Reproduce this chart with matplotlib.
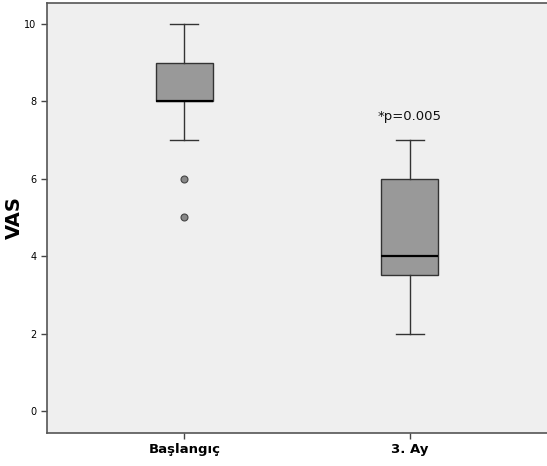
import matplotlib
matplotlib.use("Agg")
import matplotlib.pyplot as plt

# box statistics
groups = ["Başlangıç", "3. Ay"]
q1 = [8, 3.5]
med = [8, 4]
q3 = [9, 6]
whislo = [7, 2]
whishi = [10, 7]
fliers = [[6, 5], []]
y_ticks = [0, 2, 4, 6, 8, 10]
p_text = "*p=0.005"

stats = []
for i, name in enumerate(groups):
    stats.append(dict(label=name, q1=q1[i], med=med[i], q3=q3[i],
                      whislo=whislo[i], whishi=whishi[i], fliers=fliers[i]))

fig = plt.figure(figsize=(5.47, 4.66), dpi=100)
ax = fig.add_axes([47 / 547, 33 / 466, 1 - 47 / 547, 430 / 466])
ax.set_facecolor("#efefef")

edge = "#333333"
ax.bxp(stats, positions=[1, 2], widths=0.25, patch_artist=True,
       boxprops=dict(facecolor="#999999", edgecolor=edge, linewidth=1.0),
       medianprops=dict(color="black", linewidth=1.6),
       whiskerprops=dict(color=edge, linewidth=1.0),
       capprops=dict(color=edge, linewidth=1.0),
       capwidths=0.125,
       flierprops=dict(marker="o", markersize=5, markerfacecolor="#888888",
                       markeredgecolor="#444444", markeredgewidth=0.8))

ax.text(2, 7.45, p_text, ha="center", va="bottom", fontsize=9.5, color="#111111")

ax.set_xlim(0.39, 2.61)
ax.set_ylim(-0.57, 10.54)
ax.set_yticks(y_ticks)
ax.set_yticklabels([str(v) for v in y_ticks], fontsize=7)
ax.set_xticks([1, 2])
ax.set_xticklabels(groups, fontsize=9.5, fontweight="bold")
ax.tick_params(axis="both", length=4, width=1, color="#444444")
ax.set_ylabel("VAS", fontsize=14, fontweight="bold")
ax.yaxis.set_label_coords(-0.046, 0.5)

for s in ax.spines.values():
    s.set_color("#555555")
    s.set_linewidth(1.2)
ax.spines["right"].set_visible(False)

fig.savefig("out.png", dpi=100)
